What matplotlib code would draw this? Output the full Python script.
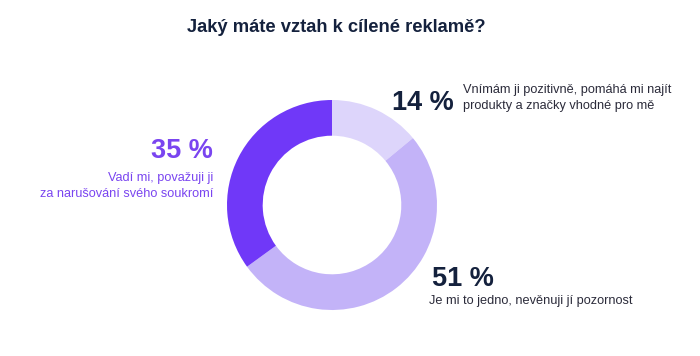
import matplotlib.pyplot as plt

plt.rcParams['font.family'] = ['Liberation Sans', 'DejaVu Sans']

# data
shares = [14, 51, 35]
pct_labels = ['14 %', '51 %', '35 %']
descriptions = ['Vnímám ji pozitivně, pomáhá mi najít\nprodukty a značky vhodné pro mě',
                'Je mi to jedno, nevěnuji jí pozornost',
                'Vadí mi, považuji ji\nza narušování svého soukromí']
colors = ['#ddd5fb', '#c3b3f8', '#7038f8']
title = 'Jaký máte vztah k cílené reklamě?'

W, H = 700, 356
fig = plt.figure(figsize=(W / 100, H / 100), dpi=100)

# donut: center (332, 205) px, radius 105 px
cx, cy, r = 332, 205, 105
ax = fig.add_axes([(cx - r) / W, (H - cy - r) / H, 2 * r / W, 2 * r / H])
ax.pie(shares, colors=colors, startangle=90, counterclock=False, radius=1,
       wedgeprops=dict(width=0.34, linewidth=0))
ax.set_xlim(-1, 1)
ax.set_ylim(-1, 1)
ax.set_aspect('equal')
ax.axis('off')

navy = '#14213d'
purple = '#7a45f0'

def px(x, y):
    return x / W, 1 - y / H

fig.text(*px(336, 27), title, ha='center', va='center', fontsize=13.2,
         fontweight='bold', color=navy)

# 14 %
fig.text(*px(392, 103), pct_labels[0], ha='left', va='center', fontsize=19.5,
         fontweight='bold', color=navy)
fig.text(*px(463, 98), descriptions[0], ha='left', va='center', fontsize=9.2,
         color='#2b2b3a', linespacing=1.35)

# 51 %
fig.text(*px(432, 279), pct_labels[1], ha='left', va='center', fontsize=19.5,
         fontweight='bold', color=navy)
fig.text(*px(429, 301), descriptions[1], ha='left', va='center', fontsize=9.2,
         color='#2b2b3a')

# 35 %
fig.text(*px(213, 151), pct_labels[2], ha='right', va='center', fontsize=19.5,
         fontweight='bold', color=purple)
fig.text(*px(213, 186), descriptions[2], ha='right', va='center', fontsize=9.2,
         color=purple, linespacing=1.35)

fig.savefig('out.png', dpi=100, facecolor='white')
